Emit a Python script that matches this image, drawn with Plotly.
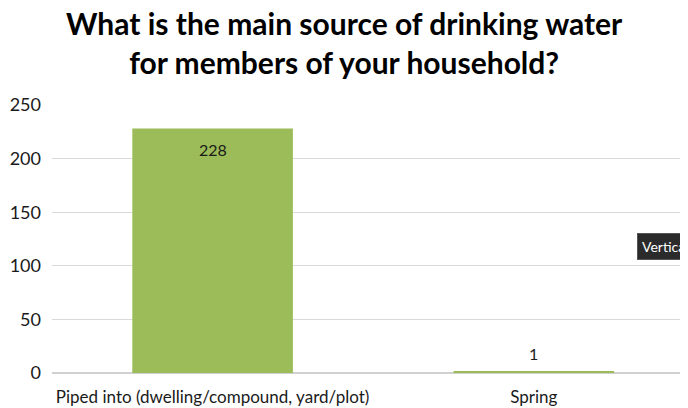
import plotly.graph_objects as go

categories = ["Piped into (dwelling/compound, yard/plot)", "Spring"]
counts = [228, 1]
y_ticks = [0, 50, 100, 150, 200, 250]
title_text = "<b>What is the main source of drinking water<br>for members of your household?</b>"

FONT = "Lato"
L, T, B = 44, 97, 35
W, H = 680, 400
PW = W - L
PH = H - T - B

fig = go.Figure()
fig.add_trace(go.Bar(
    x=categories, y=counts, width=0.5,
    marker=dict(color="#9CBC59", line=dict(width=0)),
    hoverinfo="skip",
))

# data labels
fig.add_annotation(x=categories[0], y=counts[0], text=str(counts[0]), showarrow=False,
                   yanchor="top", yshift=-9, font=dict(family=FONT, size=16, color="#1a1a1a"))
fig.add_annotation(x=categories[1], y=counts[1], text=str(counts[1]), showarrow=False,
                   yanchor="bottom", yshift=7, font=dict(family=FONT, size=16, color="#1a1a1a"))

# title as annotation (two lines)
fig.add_annotation(xref="paper", yref="paper", x=(336 - L) / PW, y=(365 - 34) / PH,
                   xanchor="center", yanchor="middle", text=title_text, showarrow=False,
                   font=dict(family=FONT, size=30, color="black"))

# tooltip artifact at right edge
fig.add_annotation(xref="paper", yref="paper", x=(629 - L) / PW, y=(365 - 238.5) / PH,
                   xanchor="left", yanchor="middle", text="Vertical Axis", showarrow=False,
                   bgcolor="#2b2b2b", bordercolor="#555", borderwidth=1, borderpad=4,
                   font=dict(family=FONT, size=14, color="white"))

fig.update_layout(
    width=W, height=H,
    margin=dict(l=L, r=0, t=T, b=B),
    paper_bgcolor="white", plot_bgcolor="white",
    showlegend=False,
    xaxis=dict(range=[-0.5, 1.48], showgrid=False, showline=False, zeroline=False,
               tickfont=dict(family=FONT, size=17, color="#1a1a1a"), ticks="",
               ticklabelstandoff=12),
    yaxis=dict(range=[0, 250], tickvals=y_ticks, showgrid=True, gridcolor="#D9D9D9",
               gridwidth=1, zeroline=True, zerolinecolor="#D0D0D0", showline=False,
               tickfont=dict(family=FONT, size=18, color="#1a1a1a"), ticks="",
               ticklabelstandoff=10),
)
fig.write_html("out.html")
